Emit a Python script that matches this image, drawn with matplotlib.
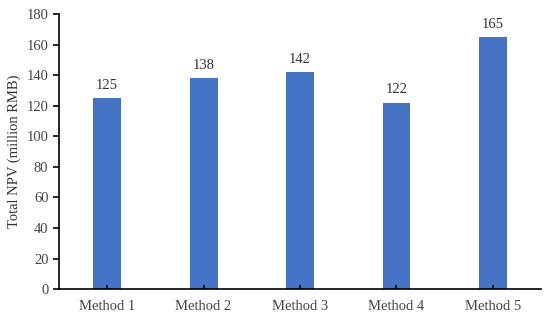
import matplotlib.pyplot as plt

# Data
methods = ['Method 1', 'Method 2', 'Method 3', 'Method 4', 'Method 5']
npv = [125, 138, 142, 122, 165]

plt.rcParams['font.family'] = ['Liberation Serif', 'DejaVu Serif']

fig = plt.figure(figsize=(5.5, 3.17), dpi=100)
ax = fig.add_axes([0.107, 0.088, 0.877, 0.868])

x = range(len(methods))
bars = ax.bar(x, npv, width=0.29, color='#4472C4')

for xi, v in zip(x, npv):
    ax.text(xi, v + 4, str(v), ha='center', va='bottom', fontsize=10.5, color='#333333')

ax.set_xlim(-0.5, 4.5)
ax.set_ylim(0, 180)
ax.set_yticks(range(0, 181, 20))
ax.set_xticks(list(x))
ax.set_xticklabels(methods)
ax.set_ylabel('Total NPV (million RMB)', fontsize=10.5, color='#333333')

for s in ['top', 'right']:
    ax.spines[s].set_visible(False)
for s in ['left', 'bottom']:
    ax.spines[s].set_linewidth(1.2)
    ax.spines[s].set_color('black')

ax.tick_params(axis='y', direction='out', length=4, width=1.2, labelsize=10.5, labelcolor='#444444')
ax.tick_params(axis='x', direction='in', length=3, width=1.2, labelsize=10.5, labelcolor='#444444', pad=8)

fig.savefig('out.png', dpi=100)
